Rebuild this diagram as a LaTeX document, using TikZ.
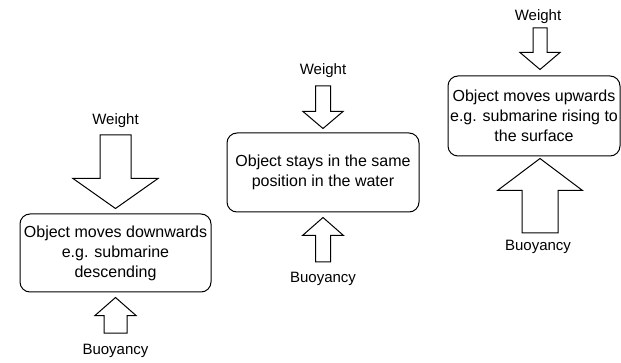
\documentclass[tikz,border=0pt]{standalone}
\usepackage{fontspec}
\setmainfont{Liberation Sans}
\usetikzlibrary{calc}

% hollow block arrow from #1 to #2: shaft half width, head half width, head length
\newcommand{\fatarrow}[5]{%
  \draw[fat] let \p1=(#1), \p2=(#2), \n1={sign(\y1-\y2)} in
    (\x1-#3,\y1) -- (\x1-#3,\y2+\n1*#5) -- (\x1-#4,\y2+\n1*#5) -- (\x1,\y2)
    -- (\x1+#4,\y2+\n1*#5) -- (\x1+#3,\y2+\n1*#5) -- (\x1+#3,\y1) -- cycle;}

\begin{document}
\begin{tikzpicture}[
    x=1pt, y=-1pt,
    state/.style={draw, line width=1pt, rounded corners=10pt, inner sep=0pt,
        align=center, font=\fontsize{16}{20}\selectfont},
    force/.style={inner sep=0pt, font=\fontsize{15}{18}\selectfont},
    fat/.style={draw, fill=white, line width=1pt, line join=miter}
]
\clip (0,0) rectangle (621,363);

% Sinking
\node[state, minimum width=191pt, minimum height=78pt] (down) at (115.5,253)
    {Object moves downwards\\e.g. submarine\\descending};
\node[force] (weightA) at (115.5,121) {Weight};
\node[force] (buoyA) at (115.5,351) {Buoyancy};
\coordinate (weightAend) at (115.5,135);
\coordinate (buoyAend) at (115.5,333);
\fatarrow{weightAend}{$(down.north)+(0,-5)$}{15.5pt}{42.5pt}{30pt}
\fatarrow{buoyAend}{$(down.south)+(0,5)$}{11.5pt}{20.5pt}{18pt}

% Floating in place
\node[state, minimum width=192pt, minimum height=79pt] (stay) at (323,172.5)
    {Object stays in the same\\position in the water};
\node[force] (weightB) at (323,71) {Weight};
\node[force] (buoyB) at (323,279) {Buoyancy};
\coordinate (weightBend) at (323,86);
\coordinate (buoyBend) at (323,262);
\fatarrow{weightBend}{$(stay.north)+(0,-4)$}{7.5pt}{20pt}{17pt}
\fatarrow{buoyBend}{$(stay.south)+(0,5)$}{7.5pt}{20.5pt}{18pt}

% Rising
\node[state, minimum width=172pt, minimum height=80pt] (up) at (534,116)
    {Object moves upwards\\e.g. submarine rising to\\the surface};
\node[force] (weightC) at (538,17) {Weight};
\node[force] (buoyC) at (538,247) {Buoyancy};
\coordinate (weightCend) at (540,28);
\coordinate (buoyCend) at (540,233);
\fatarrow{weightCend}{$(weightCend |- up.north)+(0,-6)$}{7pt}{20pt}{17pt}
\fatarrow{buoyCend}{$(buoyCend |- up.south)+(0,2)$}{18pt}{42.5pt}{32pt}

\end{tikzpicture}
\end{document}
